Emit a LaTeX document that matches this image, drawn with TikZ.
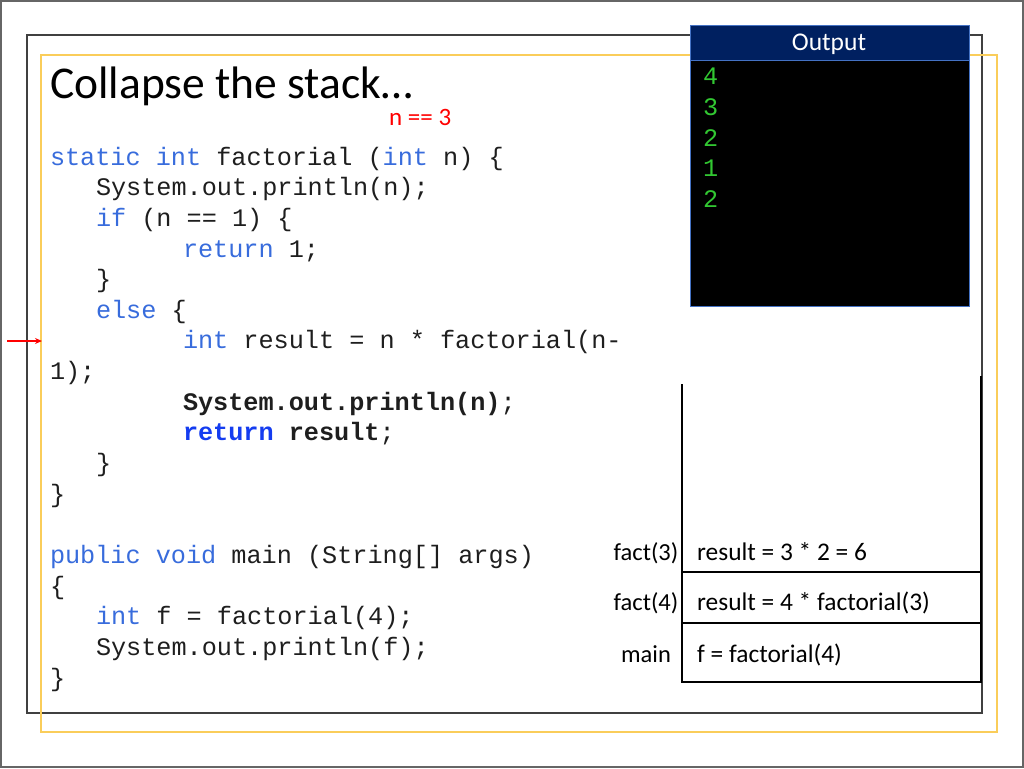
\documentclass[tikz,border=0pt]{standalone}
\usepackage{fontspec}
\setmainfont{Carlito}
\newfontfamily\codefont{Liberation Mono}
\usetikzlibrary{arrows.meta}
\definecolor{kwblue}{RGB}{56,108,220}
\definecolor{retblue}{RGB}{20,60,240}
\definecolor{navy}{RGB}{0,32,96}
\definecolor{outborder}{RGB}{68,114,196}
\definecolor{termgreen}{RGB}{50,200,50}
\definecolor{framegold}{RGB}{250,205,90}
\definecolor{framegray}{RGB}{64,64,64}
\definecolor{codegray}{RGB}{30,30,30}
\newcommand{\kw}[1]{\textcolor{kwblue}{#1}}
\newcommand{\kwb}[1]{\textcolor{retblue}{#1}}
\tikzset{
  codeline/.style={anchor=base west, inner sep=0pt, outer sep=0pt, text=codegray,
    font=\codefont\fontsize{25.2}{30}\selectfont},
  outline/.style={anchor=base west, inner sep=0pt, text=termgreen,
    font=\codefont\fontsize{25.2}{30}\selectfont},
  stacklabel/.style={anchor=base, inner sep=0pt, font=\fontsize{24.5}{28}\selectfont},
  stackcontent/.style={anchor=base west, inner sep=0pt, font=\fontsize{25.4}{28}\selectfont},
  stackline/.style={line width=2pt, black},
}
\begin{document}
\begin{tikzpicture}[x=1pt,y=-1pt]
\useasboundingbox (0,0) rectangle (1024,768);
% outer page frame
\draw[line width=2pt, gray!80!black] (1,1) rectangle (1023,767);
% slide frames
\draw[line width=2pt, framegray] (27,35) rectangle (982,713);
\draw[line width=2pt, framegold] (41,55) rectangle (997,732);

% title
\node[anchor=base west, inner sep=0pt, font=\fontsize{45.5}{50}\selectfont] (title) at (50,98) {Collapse the stack…};
\node[anchor=base west, inner sep=0pt, text=red, font=\fontsize{25}{28}\selectfont] (ncond) at (389,125.5) {n == 3};

% code
\node[codeline] (c0) at (50,165) {\kw{static} \kw{int} factorial (\kw{int} n) \{};
\node[codeline] (c1) at (96,195.7) {System.out.println(n);};
\node[codeline] (c2) at (96,226.3) {\kw{if} (n == 1) \{};
\node[codeline] (c3) at (183,257) {\kw{return} 1;};
\node[codeline] (c4) at (96,287.6) {\}};
\node[codeline] (c5) at (96,318.3) {\kw{else} \{};
\node[codeline] (c6) at (183,348.9) {\kw{int} result = n * factorial(n-};
\node[codeline] (c7) at (50,379.6) {1);};
\node[codeline] (c8) at (183,410.2) {\textbf{System.out.println(n)};};
\node[codeline] (c9) at (183,440.9) {\textbf{\kwb{return} result};};
\node[codeline] (c10) at (96,471.5) {\}};
\node[codeline] (c11) at (50,502.2) {\}};
\node[codeline] (c13) at (50,563.5) {\kw{public} \kw{void} main (String[] args)};
\node[codeline] (c14) at (50,594.1) {\{};
\node[codeline] (c15) at (96,624.8) {\kw{int} f = factorial(4);};
\node[codeline] (c16) at (96,655.4) {System.out.println(f);};
\node[codeline] (c17) at (50,686) {\}};

% red arrow
\coordinate (arrS) at (7,341);
\coordinate (arrE) at (42,341);
\draw[red, line width=1.2pt, -{Stealth[length=7pt,width=6pt]}] (arrS) -- (arrE);

% output box
\node[draw=outborder, line width=1pt, fill=black, minimum width=279pt, minimum height=281pt,
  anchor=north west, inner sep=0pt] (outbox) at (690,25) {};
\node[draw=outborder, line width=1pt, fill=navy, minimum width=279pt, minimum height=35pt,
  anchor=north west, inner sep=0pt] (outhead) at (690,25) {};
\node[text=white, font=\fontsize{25.5}{28}\selectfont, inner sep=0pt] (outtitle) at (829,44) {Output};
\node[outline] (o1) at (703,84) {4};
\node[outline] (o2) at (703,115) {3};
\node[outline] (o3) at (703,146) {2};
\node[outline] (o4) at (703,176.5) {1};
\node[outline] (o5) at (703,207) {2};

% stack
\draw[stackline] (682,384) -- (682,682) -- (981,682) -- (981,376);
\draw[stackline] (682,572) -- (981,572);
\draw[stackline] (682,623) -- (981,623);
\node[stacklabel] (l3) at (646,560) {fact(3)};
\node[stacklabel] (l4) at (646,610) {fact(4)};
\node[stacklabel] (lm) at (646,662) {main};
\node[stackcontent] (s3) at (697,560) {result = 3 * 2 = 6};
\node[stackcontent] (s4) at (697,610) {result = 4 * factorial(3)};
\node[stackcontent] (sm) at (697,662) {f = factorial(4)};
\end{tikzpicture}
\end{document}
